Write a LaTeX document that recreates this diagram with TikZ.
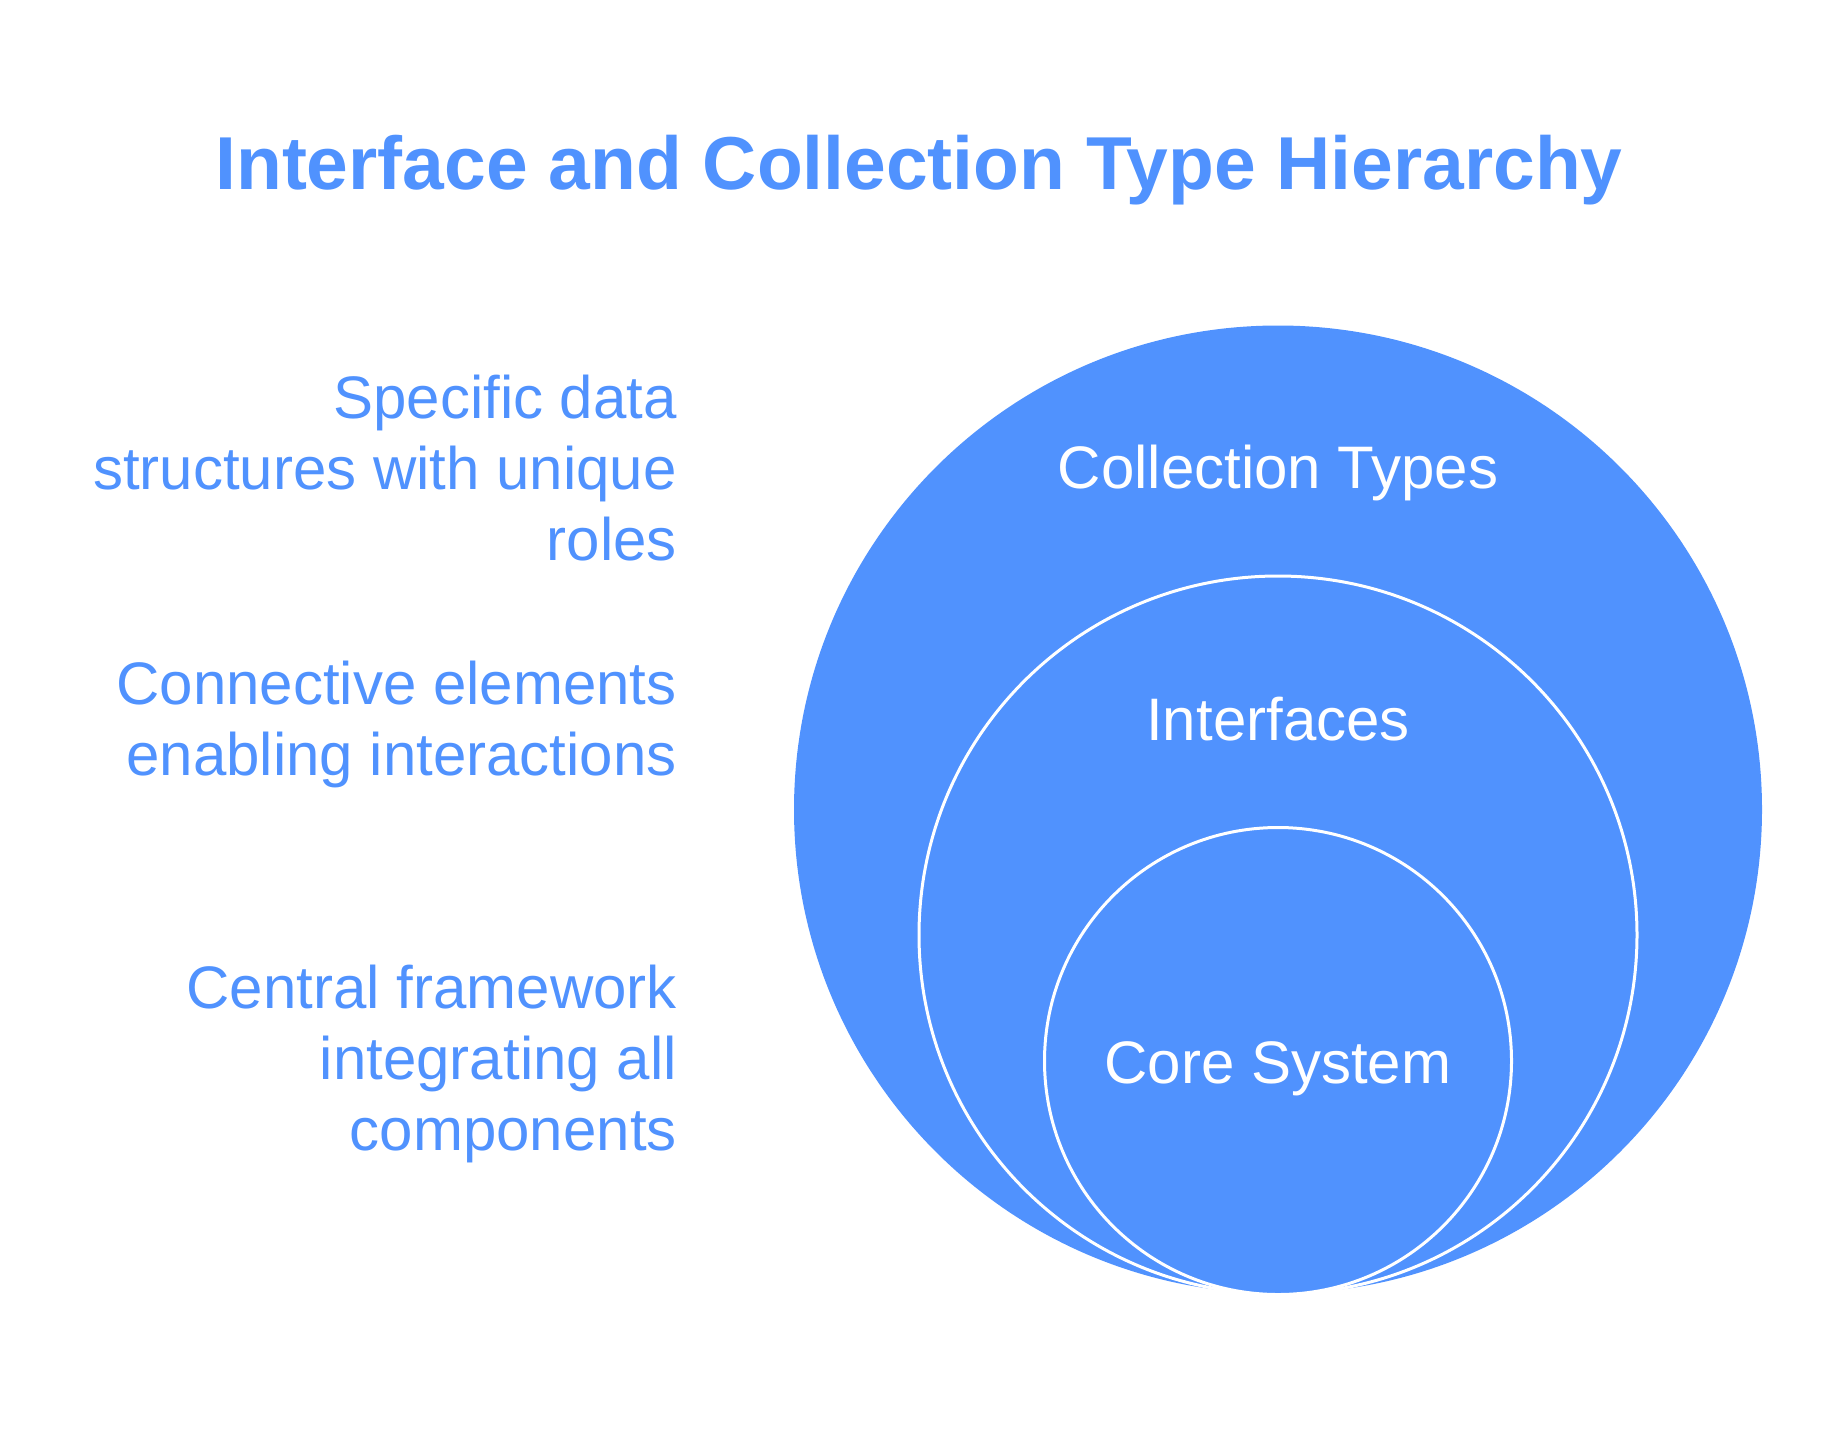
\documentclass[tikz,border=0pt]{standalone}
\usepackage{fontspec}
\setmainfont{Liberation Sans}
\definecolor{cblue}{RGB}{80,146,254}
\begin{document}
\begin{tikzpicture}[x=1pt,y=-1pt,
  ring/.style={circle, inner sep=0pt, fill=cblue},
  inring/.style={ring, draw=white, line width=3pt},
  lbl/.style={text=white, font=\fontsize{60}{71}\selectfont, inner sep=0pt, anchor=base},
  side/.style={text=cblue, font=\fontsize{60}{71}\selectfont, inner sep=0pt, align=right, anchor=base east},
  ttl/.style={text=cblue, font=\fontsize{75}{90}\selectfont\bfseries, inner sep=0pt, anchor=base}]
\useasboundingbox (0,0) rectangle (1836,1441);
\node[ttl] (title) at (919,189) {Interface and Collection Type Hierarchy};
\node[ring, minimum size=968pt] (outer) at (1278,809.5) {};
\node[inring, minimum size=718pt] (middle) at (1278,935) {};
\node[inring, minimum size=467pt] (inner) at (1278,1061) {};
\node[lbl] (lcoll) at (1278,488) {Collection Types};
\node[lbl] (lint) at (1278,740) {Interfaces};
\node[lbl] (lcore) at (1278,1083) {Core System};
\node[side] (dcoll) at (677,560) {Specific data\\structures with unique\\roles};
\node[side] (dint) at (677,775) {Connective elements\\enabling interactions};
\node[side] (dcore) at (677,1150) {Central framework\\integrating all\\components};
\end{tikzpicture}
\end{document}
